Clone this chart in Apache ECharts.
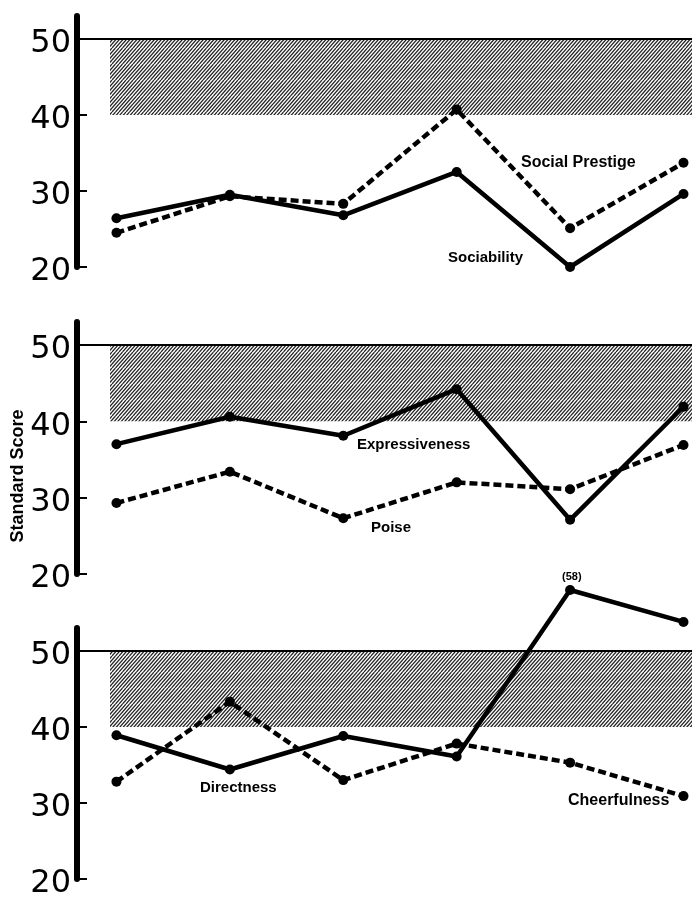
<!DOCTYPE html>
<html><head><meta charset="utf-8">
<script src="https://cdn.jsdelivr.net/npm/echarts@6/dist/echarts.min.js"></script>
<style>html,body{margin:0;padding:0;background:#fff}#c{width:700px;height:900px}</style>
</head><body><div id="c"></div>
<script>
// ---- data ----
const positions = [1, 2, 3, 4, 5, 6];
const yTicks = [20, 30, 40, 50];
const band = [40, 50];
const sociability    = [26.4, 29.5, 26.8, 32.5, 20.0, 29.6];
const socialPrestige = [24.5, 29.3, 28.3, 40.7, 25.1, 33.7];
const expressiveness = [37.0, 40.6, 38.1, 44.2, 27.1, 41.9];
const poise          = [29.3, 33.4, 27.3, 32.0, 31.1, 36.9];
const directness     = [38.9, 34.4, 38.8, 36.1, 58.0, 53.8];
const cheerfulness   = [32.8, 43.3, 33.0, 37.8, 35.3, 30.9];

// ---- hatch pattern ----
function hatch() {
  const w = 14, h = 16, step = 3.5;
  const c = document.createElement('canvas');
  c.width = w; c.height = h;
  const g = c.getContext('2d');
  g.fillStyle = '#fff'; g.fillRect(0, 0, w, h);
  g.strokeStyle = '#222'; g.lineWidth = 1.2;
  for (let x0 = -2 * w; x0 <= 2 * w; x0 += step) {
    g.beginPath(); g.moveTo(x0, h); g.lineTo(x0 + w, 0); g.stroke();
  }
  return c;
}
const hatchImg = hatch();

const XMIN = 0.652, XMAX = 6.075, BAND_X0 = 0.943;
const tops = [16, 322, 628];
const heights = [251, 252, 251];

const grids = tops.map((t, i) => ({ left: 77, right: 8, top: t, height: heights[i] }));
const xAxes = tops.map((t, i) => ({ type: 'value', gridIndex: i, min: XMIN, max: XMAX, show: false }));
const yAxes = tops.map((t, i) => ({
  type: 'value', gridIndex: i, min: 20, max: 53, interval: 10,
  axisLine: { show: true, lineStyle: { color: '#000', width: 6 } },
  axisTick: { show: true, inside: true, length: 10, customValues: [20, 30, 40], lineStyle: { color: '#000', width: 2 } },
  axisLabel: { customValues: yTicks, fontSize: 32, fontFamily: 'DejaVu Sans', color: '#000', margin: 6,
               verticalAlign: 'top', lineHeight: 10 },
  splitLine: { show: false }
}));

function pairs(arr) { return arr.map((v, i) => [positions[i], v]); }

function lineSeries(idx, arr, dashed, withBand) {
  const s = {
    type: 'line', xAxisIndex: idx, yAxisIndex: idx, data: pairs(arr), clip: false,
    symbol: 'circle', symbolSize: 10, showAllSymbol: true,
    lineStyle: { color: '#000', width: 4.5, type: dashed ? [8, 4] : 'solid' },
    itemStyle: { color: '#000' }, z: 3
  };
  if (withBand) {
    s.markLine = {
      silent: true, symbol: 'none', label: { show: false },
      lineStyle: { color: '#000', width: 2, type: 'solid' },
      data: [{ yAxis: band[1] }]
    };
    s.markArea = {
      silent: true,
      itemStyle: { color: { image: hatchImg, repeat: 'repeat' } },
      data: [[{ xAxis: BAND_X0, yAxis: band[0] }, { xAxis: XMAX, yAxis: band[1] }]]
    };
  }
  return s;
}

const series = [
  lineSeries(0, socialPrestige, true, true),
  lineSeries(0, sociability, false, false),
  lineSeries(1, poise, true, true),
  lineSeries(1, expressiveness, false, false),
  lineSeries(2, cheerfulness, true, true),
  lineSeries(2, directness, false, false)
];

const F = '"Liberation Sans", Arial, sans-serif';
function txt(text, x, y, size, extra) {
  return Object.assign({
    type: 'text', x: x, y: y, z: 10,
    style: { text: text, font: 'bold ' + size + 'px ' + F, fill: '#000', align: 'left', verticalAlign: 'middle' }
  }, extra || {});
}

const graphic = [
  txt('Social Prestige', 521, 163, 16),
  txt('Sociability', 448, 258, 15),
  txt('Expressiveness', 357, 445, 15),
  txt('Poise', 371, 528, 15),
  txt('(58)', 562, 577, 11),
  txt('Directness', 200, 788, 15),
  txt('Cheerfulness', 568, 801, 16),
  {
    type: 'text', x: 18, y: 476, rotation: Math.PI / 2, z: 10,
    style: { text: 'Standard Score', font: 'bold 18px ' + F, fill: '#000', align: 'center', verticalAlign: 'middle' }
  }
];

const chart = echarts.init(document.getElementById('c'), null, { renderer: 'canvas' });
chart.setOption({
  animation: false,
  backgroundColor: '#fff',
  grid: grids, xAxis: xAxes, yAxis: yAxes, series: series, graphic: graphic
});
</script>
</body></html>
